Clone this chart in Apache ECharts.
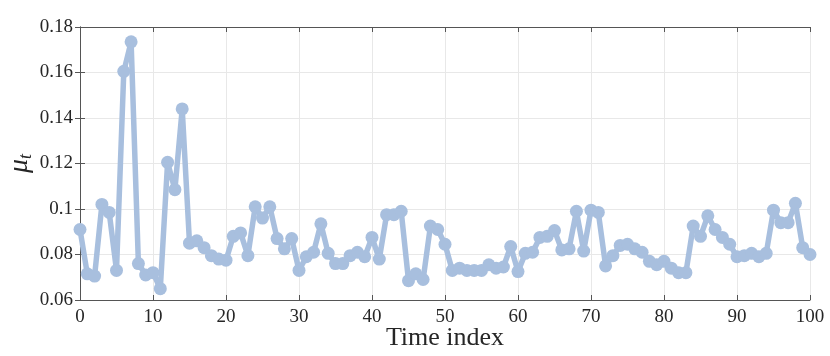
<!DOCTYPE html>
<html>
<head>
<meta charset="utf-8">
<script src="https://cdn.jsdelivr.net/npm/echarts@6/dist/echarts.min.js"></script>
<style>
  html, body { margin: 0; padding: 0; background: #fff; }
  #chart { width: 830px; height: 356px; }
</style>
</head>
<body>
<div id="chart"></div>
<script>
  // mu_t per time index
  const timeIndex = Array.from({length: 101}, (_, i) => i);
  const muValues = [
    0.091, 0.0715, 0.0705, 0.102, 0.0985, 0.073, 0.1605, 0.1735, 0.076, 0.071,
    0.072, 0.065, 0.1205, 0.1085, 0.144, 0.085, 0.086, 0.083, 0.0795, 0.078,
    0.0775, 0.088, 0.0895, 0.0795, 0.101, 0.096, 0.101, 0.087, 0.0825, 0.087,
    0.073, 0.079, 0.081, 0.0935, 0.0805, 0.076, 0.076, 0.0795, 0.081, 0.079,
    0.0875, 0.078, 0.0975, 0.0975, 0.099, 0.0685, 0.0715, 0.069, 0.0925, 0.091,
    0.0845, 0.073, 0.074, 0.073, 0.073, 0.073, 0.0755, 0.074, 0.0745, 0.0835,
    0.0725, 0.0805, 0.081, 0.0875, 0.088, 0.0905, 0.082, 0.0825, 0.099, 0.0815,
    0.0995, 0.0985, 0.075, 0.0795, 0.084, 0.0845, 0.0825, 0.081, 0.077, 0.0755,
    0.077, 0.074, 0.072, 0.072, 0.0925, 0.088, 0.097, 0.091, 0.0875, 0.0845,
    0.079, 0.0795, 0.0805, 0.079, 0.0805, 0.0995, 0.094, 0.094, 0.1025, 0.083,
    0.080
  ];

  const font = 'Liberation Serif, Times New Roman, serif';
  const axisColor = '#555';
  const textColor = '#262626';
  const chart = echarts.init(document.getElementById('chart'));

  const boxAxis = {
    axisLine: {show: true, lineStyle: {color: axisColor, width: 1}},
    axisTick: {show: true, inside: true, length: 5, lineStyle: {color: axisColor}},
    axisLabel: {show: false},
    splitLine: {show: false},
  };

  chart.setOption({
    animation: false,
    grid: {left: 80, right: 20, top: 27, bottom: 56, containLabel: false, outerBoundsMode: 'none'},
    xAxis: [
      {
        type: 'value',
        min: 0,
        max: 100,
        interval: 10,
        name: 'Time index',
        nameLocation: 'middle',
        nameGap: 25,
        nameMoveOverlap: false,
        nameTextStyle: {fontFamily: font, fontSize: 26, color: textColor},
        axisLine: {lineStyle: {color: axisColor}},
        axisTick: {inside: true, length: 5, lineStyle: {color: axisColor}},
        axisLabel: {fontFamily: font, fontSize: 19, color: textColor, margin: 8},
        splitLine: {show: true, lineStyle: {color: '#e8e8e8'}},
      },
      Object.assign({type: 'value', position: 'top', min: 0, max: 100, interval: 10}, boxAxis),
    ],
    yAxis: [
      {
        type: 'value',
        min: 0.06,
        max: 0.18,
        interval: 0.02,
        name: '{m|μ}{s|t}',
        nameLocation: 'middle',
        nameGap: 45,
        nameMoveOverlap: false,
        nameTextStyle: {
          rich: {
            m: {fontFamily: font, fontStyle: 'italic', fontSize: 28, color: textColor},
            s: {fontFamily: font, fontStyle: 'italic', fontSize: 18, color: textColor, padding: [12, 0, 0, 0]},
          },
        },
        axisLine: {show: true, lineStyle: {color: axisColor}},
        axisTick: {show: true, inside: true, length: 5, lineStyle: {color: axisColor}},
        axisLabel: {fontFamily: font, fontSize: 19, color: textColor, margin: 7},
        splitLine: {show: true, lineStyle: {color: '#e8e8e8'}},
      },
      Object.assign({type: 'value', position: 'right', min: 0.06, max: 0.18, interval: 0.02}, boxAxis),
    ],
    series: [
      {
        type: 'line',
        data: timeIndex.map((t, i) => [t, muValues[i]]),
        symbol: 'circle',
        symbolSize: 13,
        lineStyle: {color: '#a8bfde', width: 5.5},
        itemStyle: {color: '#a8bfde'},
        clip: false,
      },
    ],
  });
</script>
</body>
</html>
